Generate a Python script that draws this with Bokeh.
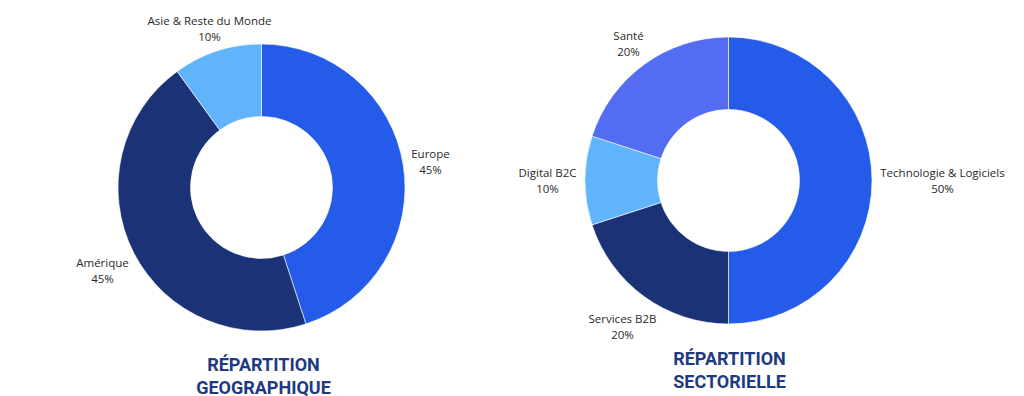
import numpy as np
from bokeh.plotting import figure
from bokeh.models import Range1d, ColumnDataSource
from bokeh.core.properties import value
from bokeh.embed import file_html
from bokeh.resources import INLINE

# ---- data ----
geo_labels = ["Europe", "Amérique", "Asie & Reste du Monde"]
geo_values = [45, 45, 10]
geo_colors = ["#245BE8", "#1B3276", "#5FB4FB"]

sect_labels = ["Technologie & Logiciels", "Services B2B", "Digital B2C", "Santé"]
sect_values = [50, 20, 10, 20]
sect_colors = ["#245BE8", "#1B3276", "#5FB4FB", "#536CF2"]

titles = [["RÉPARTITION", "GEOGRAPHIQUE"], ["RÉPARTITION", "SECTORIELLE"]]

# ---- layout (page pixel coords) ----
W, H = 1024, 396
def Y(yp):
    return H - yp
def X(xp):
    return xp

geo_center = (261, 187)
sect_center = (728, 180)
outer_r, inner_r = 143.5, 71
geo_label_pos = [(430, 153), (102, 262), (209, 20)]
sect_label_pos = [(942, 172), (622, 318), (547, 172), (628, 35)]
title_pos = [(263, 364), (729, 358)]

p = figure(width=W, height=H, output_backend="svg", toolbar_location=None,
           x_range=Range1d(0, W), y_range=Range1d(0, H), min_border=0)
p.axis.visible = False
p.grid.visible = False
p.outline_line_color = None
p.background_fill_color = "white"
p.border_fill_color = "white"

label_font = value("Open Sans")
label_color = "#2A2A2A"

def donut(center, labels, values, colors, positions):
    v = np.array(values, dtype=float)
    frac = v / v.sum()
    cum = np.concatenate([[0], np.cumsum(frac)])
    start = np.pi / 2 - 2 * np.pi * cum[:-1]
    end = np.pi / 2 - 2 * np.pi * cum[1:]
    src = ColumnDataSource(dict(start=start, end=end, color=colors))
    p.annular_wedge(x=X(center[0]), y=Y(center[1]), inner_radius=inner_r,
                    outer_radius=outer_r, start_angle="start", end_angle="end",
                    direction="clock", fill_color="color", line_color="white",
                    line_width=0.6, source=src)
    pcts = [f"{int(round(f * 100))}%" for f in frac]
    lx = [X(pp[0]) for pp in positions]
    ly1 = [Y(pp[1]) for pp in positions]
    ly2 = [Y(pp[1] + 16) for pp in positions]
    p.text(x=lx, y=ly1, text=labels, text_align="center", text_baseline="middle",
           text_font=label_font, text_font_size="11.5px", text_color=label_color)
    p.text(x=lx, y=ly2, text=pcts, text_align="center", text_baseline="middle",
           text_font=label_font, text_font_size="11.5px", text_color=label_color)

donut(geo_center, geo_labels, geo_values, geo_colors, geo_label_pos)
donut(sect_center, sect_labels, sect_values, sect_colors, sect_label_pos)

for t, pos in zip(titles, title_pos):
    p.text(x=[X(pos[0])] * 2, y=[Y(pos[1]), Y(pos[1] + 22.5)], text=t,
           text_align="center", text_baseline="middle", text_font=value("Roboto"),
           text_font_style="bold", text_font_size="18px", text_color="#1E3A80")

open("out.html", "w").write(file_html(p, INLINE))
